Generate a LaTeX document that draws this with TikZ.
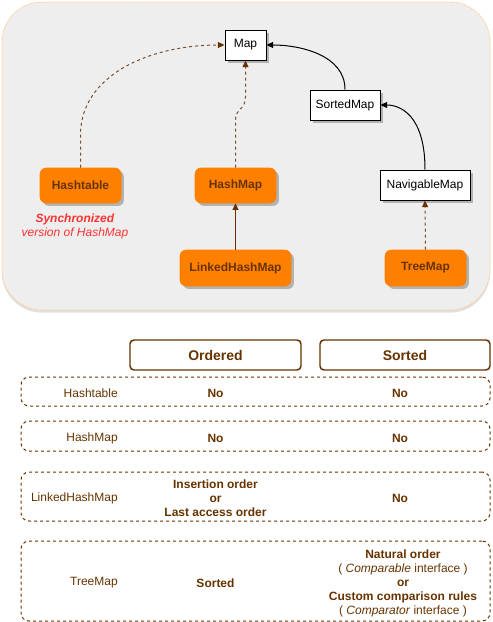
\documentclass[tikz,border=0pt]{standalone}
\usepackage{fontspec}
\setmainfont{Liberation Sans}
\usetikzlibrary{arrows.meta,shadows}
\definecolor{brn}{HTML}{663300}
\definecolor{dashbrn}{HTML}{7A4E26}
\definecolor{org}{HTML}{FF8000}
\definecolor{bgc}{HTML}{EEEEEE}
\definecolor{bgb}{HTML}{FFCC99}
\definecolor{redt}{HTML}{FF3333}
\newcommand{\fsA}{\fontsize{9}{10.5}\selectfont}
\newcommand{\fsB}{\fontsize{10.5}{12}\selectfont}
\tikzset{
  shd/.style={drop shadow={shadow xshift=2.2pt,shadow yshift=-2.2pt,fill=black!30,opacity=1}},
  cls/.style={draw=black,fill=white,line width=0.75pt,font=\fsA,inner sep=0pt,shd},
  impl/.style={draw=org,fill=org,rounded corners=4.5pt,font=\fsA\bfseries,text=brn,inner sep=0pt,shd},
  tip/.style={-{Triangle[length=5pt,width=4.5pt]}},
  dep/.style={tip,draw=dashbrn,line width=0.75pt,dash pattern=on 2.25pt off 2.25pt,-{Triangle[length=5pt,width=4.5pt,fill=brn,color=brn]}},
  inh/.style={tip,draw=black,line width=0.75pt},
  inhb/.style={tip,draw=brn,line width=0.75pt},
  hdr/.style={draw=brn,line width=1.1pt,rounded corners=3pt,font=\fsB\bfseries,text=brn,inner sep=0pt},
  rowbox/.style={draw=brn,line width=0.75pt,dash pattern=on 2.25pt off 2.25pt,rounded corners=6pt,inner sep=0pt},
  lbl/.style={font=\fsA,text=brn,anchor=east,inner sep=0pt,yshift=-1pt},
  cell/.style={font=\fsA,text=brn,align=center,inner sep=0pt,yshift=-1pt},
}
\begin{document}
\begin{tikzpicture}[x=0.75pt,y=-0.75pt]
\useasboundingbox (0,0) rectangle (493,622);
% background panel
\node[draw=bgb,fill=bgc,line width=0.75pt,dash pattern=on 0.75pt off 0.75pt,rounded corners=30pt,
  minimum width=488*0.75pt,minimum height=308*0.75pt,inner sep=0pt,
  drop shadow={shadow xshift=0pt,shadow yshift=-2pt,fill=black!12,opacity=1}] (panel) at (246,156) {};
% class nodes
\node[cls,minimum width=41*0.75pt,minimum height=30*0.75pt] (map) at (245.5,45) {Map};
\node[cls,minimum width=70*0.75pt,minimum height=30*0.75pt] (sm) at (345,105) {SortedMap};
\node[cls,minimum width=90*0.75pt,minimum height=30*0.75pt] (nm) at (425,185) {NavigableMap};
\node[impl,minimum width=81*0.75pt,minimum height=35*0.75pt] (ht) at (80.5,185.5) {Hashtable};
\node[impl,minimum width=81*0.75pt,minimum height=35*0.75pt] (hm) at (235.5,185.5) {HashMap};
\node[impl,minimum width=111*0.75pt,minimum height=36*0.75pt] (lhm) at (235.5,268) {LinkedHashMap};
\node[impl,minimum width=81*0.75pt,minimum height=36*0.75pt] (tm) at (425.5,268) {TreeMap};
\node[font=\fsA,text=redt,align=center,inner sep=0pt] (sync) at (75,226)
  {\textbf{\textit{Synchronized}}\\\textit{version of HashMap}};
% connectors
\draw[dep] (ht.north) -- (80.5,135) .. controls (80.5,75) and (150,45) .. (map.west);
\draw[dep] (hm.north) -- (235.5,120) .. controls (235.5,108) and (245.5,110) .. (245.5,97) -- (map.south);
\draw[inh] (sm.north) .. controls (345,55) and (300,45) .. (map.east);
\draw[inh] (nm.north) .. controls (425,115) and (400,105) .. (sm.east);
\draw[inhb] (lhm.north) -- (hm.south);
\draw[dep] (tm.north) -- (nm.south);
% table headers
\node[hdr,minimum width=171*0.75pt,minimum height=30*0.75pt] (ord) at (215.5,355) {Ordered};
\node[hdr,minimum width=170*0.75pt,minimum height=30*0.75pt] (srt) at (405,355) {Sorted};
% rows
\node[rowbox,minimum width=469*0.75pt,minimum height=29*0.75pt] (r1) at (255.5,391.5) {};
\node[rowbox,minimum width=469*0.75pt,minimum height=30*0.75pt] (r2) at (255.5,436) {};
\node[rowbox,minimum width=469*0.75pt,minimum height=49*0.75pt] (r3) at (255.5,496.5) {};
\node[rowbox,minimum width=469*0.75pt,minimum height=80*0.75pt] (r4) at (255.5,581) {};
% row texts
\node[lbl] (l1) at (118,391.7) {Hashtable};
\node[cell,font=\fsA\bfseries] (o1) at (215.5,391.7) {No};
\node[cell,font=\fsA\bfseries] (s1) at (400,391.7) {No};
\node[lbl] (l2) at (118,436.7) {HashMap};
\node[cell,font=\fsA\bfseries] (o2) at (215.5,436.7) {No};
\node[cell,font=\fsA\bfseries] (s2) at (400,436.7) {No};
\node[lbl] (l3) at (118,496.7) {LinkedHashMap};
\node[cell,font=\fsA\bfseries] (o3) at (215.5,496.7) {Insertion order\\or\\Last access order};
\node[cell,font=\fsA\bfseries] (s3) at (400,496.7) {No};
\node[lbl] (l4) at (118,581.7) {TreeMap};
\node[cell,font=\fsA\bfseries] (o4) at (215.5,581.7) {Sorted};
\node[cell] (s4) at (403,581.7) {\textbf{Natural order}\\( \textit{Comparable} interface )\\\textbf{or}\\\textbf{Custom comparison rules}\\( \textit{Comparator} interface )};
\end{tikzpicture}
\end{document}
